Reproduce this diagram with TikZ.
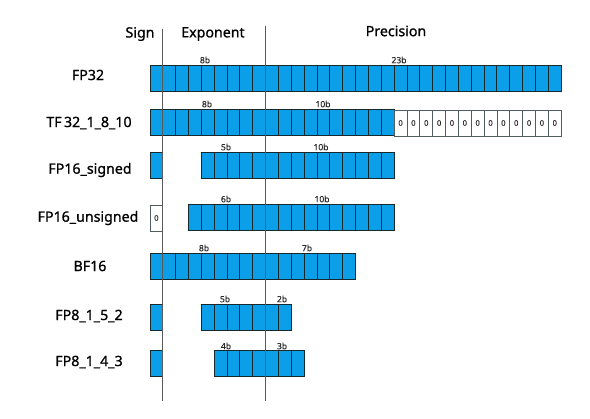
\documentclass[tikz,border=0pt]{standalone}
\usepackage{fontspec}
\setmainfont{Noto Sans}
\newfontfamily\medfont{Noto Sans}[FakeBold=0.9]
\newfontfamily\smallfont{Noto Sans}[FakeBold=0.4]
\definecolor{cellblue}{HTML}{0A9FE8}
\definecolor{cellline}{HTML}{16292B}
\definecolor{axisgray}{HTML}{5A5A5A}
\definecolor{smalltext}{HTML}{2A2A2A}
\newcommand\cellw{12.85}
\newcommand\cellh{26}
\newcommand\bitcells[4]{%
  \foreach \i in {1,...,#3}{%
    \draw[#4] ({#2+(\i-1)*\cellw},#1) rectangle ++(\cellw,\cellh);
  }%
}
\newcommand\zerocells[3]{%
  \foreach \i in {1,...,#3}{%
    \draw[zcell] ({#2+(\i-1)*\cellw},#1) rectangle ++(\cellw,\cellh);
    \node[zerotext] at ({#2+(\i-0.5)*\cellw},{#1+\cellh/2}) {0};
  }%
}
\begin{document}
\begin{tikzpicture}[x=1pt,y=-1pt,
  cell/.style={draw=cellline, fill=cellblue, line width=1pt},
  zcell/.style={draw=cellline!75, fill=white, line width=0.8pt},
  zerotext/.style={font=\smallfont\fontsize{7.5}{8}\selectfont, text=smalltext, inner sep=0pt},
  rowlabel/.style={font=\medfont\fontsize{14.2}{16}\selectfont, text=black, inner sep=0pt},
  header/.style={font=\medfont\fontsize{14.2}{16}\selectfont, text=black, inner sep=0pt},
  bitlabel/.style={font=\smallfont\fontsize{8.5}{9}\selectfont, text=smalltext, inner sep=0pt},
  axis/.style={draw=axisgray, line width=1.2pt}]
\useasboundingbox (0,0) rectangle (590,419);

% headers
\node[header] (hsign) at (140,34) {Sign};
\node[header] (hexp) at (213,34) {Exponent};
\node[header] (hprec) at (396,31) {Precision};

% row labels
\node[rowlabel] (lfp32) at (88,75) {FP32};
\node[rowlabel] (ltf32) at (89,123) {TF\,32\_1\_8\_10};
\node[rowlabel] (lfp16s) at (90,170) {FP16\_signed};
\node[rowlabel] (lfp16u) at (88,218) {FP16\_unsigned};
\node[rowlabel] (lbf16) at (90,266) {BF16};
\node[rowlabel] (lfp152) at (89,316) {FP8\_1\_5\_2};
\node[rowlabel] (lfp143) at (89,362) {FP8\_1\_4\_3};

% FP32
\bitcells{66}{150}{32}{cell}
% TF32
\bitcells{110}{150}{19}{cell}
\zerocells{110}{394.15}{13}
% FP16 signed
\bitcells{153}{150}{1}{cell}
\bitcells{153}{201.4}{15}{cell}
% FP16 unsigned
\zerocells{205}{150}{1}
\bitcells{205}{188.55}{16}{cell}
% BF16
\bitcells{254}{150}{16}{cell}
% FP8 1 5 2
\bitcells{305}{150}{1}{cell}
\bitcells{305}{201.4}{7}{cell}
% FP8 1 4 3
\bitcells{351}{150}{1}{cell}
\bitcells{351}{214.25}{7}{cell}

% bit labels
\node[bitlabel] (b1e) at (205,60) {8b};
\node[bitlabel] (b1m) at (399,60) {23b};
\node[bitlabel] (b2e) at (207,104) {8b};
\node[bitlabel] (b2m) at (323,104) {10b};
\node[bitlabel] (b3e) at (226,147) {5b};
\node[bitlabel] (b3m) at (321,147) {10b};
\node[bitlabel] (b4e) at (226,199) {6b};
\node[bitlabel] (b4m) at (322,199) {10b};
\node[bitlabel] (b5e) at (204,248) {8b};
\node[bitlabel] (b5m) at (307,248) {7b};
\node[bitlabel] (b6e) at (225,299) {5b};
\node[bitlabel] (b6m) at (282,299) {2b};
\node[bitlabel] (b7e) at (226,346) {4b};
\node[bitlabel] (b7m) at (282,346) {3b};

% axis lines
\coordinate (s1) at (162.8,29);
\coordinate (s2) at (162.8,401);
\coordinate (e1) at (265.65,26);
\coordinate (e2) at (265.65,401);
\draw[axis] (s1) -- (s2);
\draw[axis] (e1) -- (e2);
\end{tikzpicture}
\end{document}
